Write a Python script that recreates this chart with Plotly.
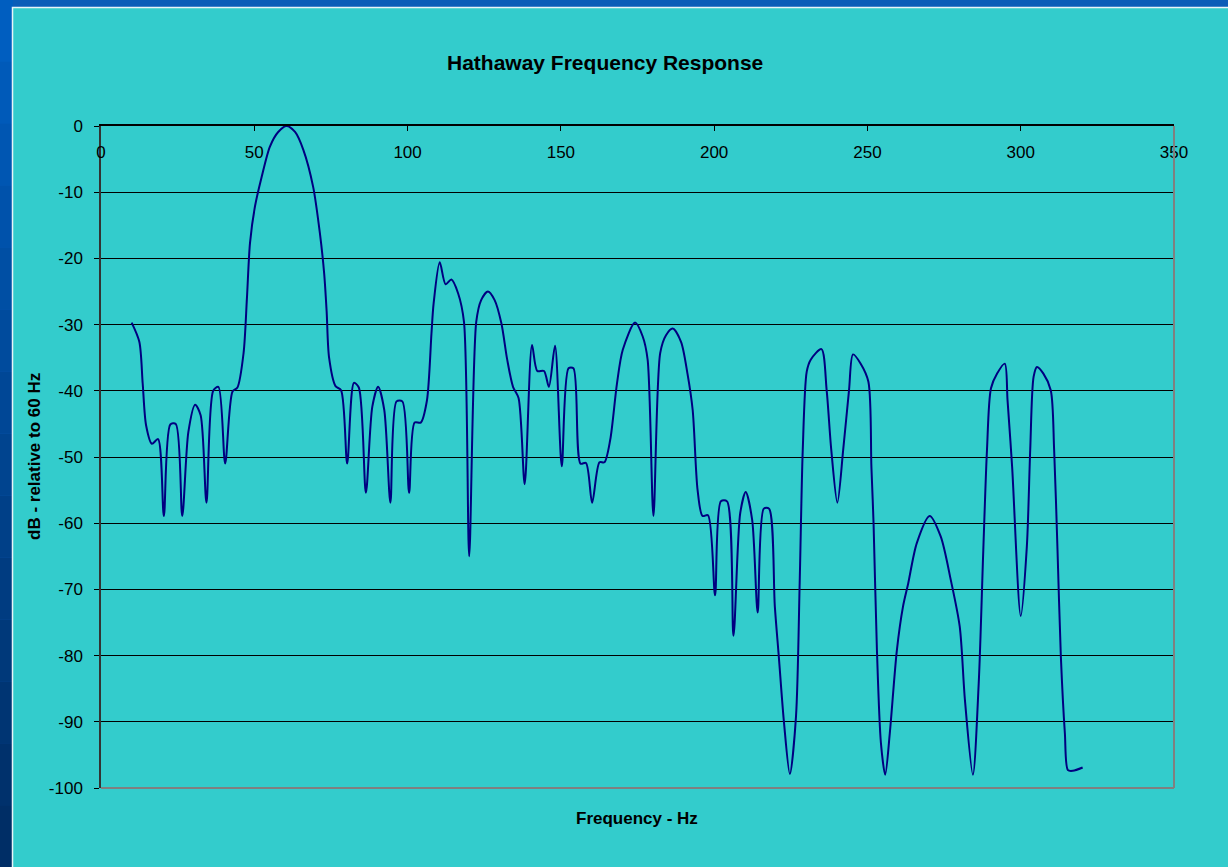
import plotly.graph_objects as go

W, H = 1228, 867
L, R, T, B = 101, 54, 126, 79

# Frequency (Hz) and response (dB relative to 60 Hz)
freq = [
    10, 12.5, 13.6, 14.7, 16.6, 18.6, 20.5, 22.6, 24.4, 26.5,
    28.5, 30.7, 32.5, 34.4, 36.6, 38.3, 40.5, 42.9, 44.5, 46.5,
    47.6, 48.6, 50.2, 52.4, 55.1, 57.8, 60.5, 63.3, 66.0, 69.2,
    71.4, 72.8, 73.6, 74.4, 76.5, 78.3, 80.3, 82.5, 84.1, 86.4,
    88.5, 90.4, 92.4, 94.4, 96.4, 98.3, 100.5, 102.3, 104.3, 106.3,
    107.8, 108.5, 110.5, 112.4, 114.3, 116.5, 118.4, 120.1, 122.4, 124.0,
    126.2, 128.4, 130.6, 132.5, 134.4, 136.2, 138.2, 140.6, 142.3, 144.5,
    146.1, 148.1, 150.3, 152.5, 154.1, 156.4, 158.2, 160.2, 162.6, 164.2,
    166.1, 168.3, 170.2, 174.2, 176.7, 178.3, 180.2, 182.4, 184.3, 186.5,
    189.2, 191.3, 193.0, 194.6, 196.2, 198.0, 200.3, 202.2, 204.2, 206.3,
    208.5, 210.3, 212.4, 214.2, 216.2, 217.9, 219.8, 221.1, 222.8, 224.7,
    226.7, 227.9, 228.9, 230.2, 231.5, 235.0, 236.7, 238.2, 240.2, 242.1,
    244.0, 245.3, 247.8, 250.3, 251.3, 252.0, 253.1, 254.4, 255.8, 257.3,
    259.6, 261.6, 263.3, 266.1, 270.3, 273.9, 277.2, 280.1, 281.8, 284.4,
    286.3, 287.8, 289.0, 290.3, 292.3, 294.8, 295.7, 297.2, 300.0, 302.0,
    303.1, 304.2, 305.3, 307.4, 309.8, 310.9, 312.0, 313.1, 314.4, 315.4,
    317.0, 320.2,
]
db = [
    -29.7, -32.6, -38.9, -45.2, -48.0, -47.3, -58.9, -45.1, -45.0, -58.9,
    -46.2, -42.1, -43.7, -56.9, -40.0, -39.4, -51.0, -40.1, -39.5, -34.3,
    -26.0, -17.7, -12.2, -7.7, -3.1, -0.9, 0.0, -0.9, -3.6, -9.2,
    -16.2, -22.3, -28.0, -35.0, -39.3, -39.9, -51.0, -38.8, -39.5, -55.4,
    -42.4, -39.4, -42.9, -56.9, -41.6, -41.6, -55.4, -44.8, -44.8, -41.5,
    -31.3, -26.8, -20.6, -23.9, -23.2, -25.3, -29.6, -65.0, -29.6, -26.3,
    -25.0, -26.3, -29.8, -35.3, -39.4, -41.1, -54.1, -33.1, -37.0, -37.0,
    -39.4, -33.2, -51.4, -36.6, -36.6, -51.0, -50.9, -56.9, -50.8, -50.8,
    -47.4, -38.9, -33.8, -29.7, -31.8, -35.3, -58.9, -34.3, -31.6, -30.6,
    -32.6, -37.4, -42.9, -55.0, -58.9, -58.8, -70.9, -56.7, -56.7, -77.0,
    -58.5, -55.3, -59.5, -73.5, -57.8, -57.8, -72.6, -80.2, -90.2, -97.9,
    -89.2, -69.0, -49.0, -37.1, -35.3, -33.7, -39.9, -48.9, -56.9, -48.9,
    -39.9, -34.5, -35.9, -38.6, -51.5, -60.0, -79.2, -93.2, -98.0, -91.7,
    -79.2, -72.6, -69.1, -63.0, -58.9, -62.0, -68.6, -75.6, -86.7, -98.0,
    -84.2, -64.0, -48.9, -39.6, -37.4, -35.9, -41.4, -51.5, -74.0, -63.5,
    -48.9, -37.9, -36.4, -37.4, -39.9, -48.9, -64.0, -80.2, -91.7, -97.3,
    -97.4, -96.9,
]

x_ticks = [0, 50, 100, 150, 200, 250, 300, 350]
y_ticks = [0, -10, -20, -30, -40, -50, -60, -70, -80, -90, -100]
x_labels = [str(v) for v in x_ticks]
y_labels = [str(v) for v in y_ticks]   # plain hyphen minus, like Excel

TEAL = "#33CCCC"
FONT = "Liberation Sans, Arial, sans-serif"


# paper coords in plotly are relative to the plot area, so convert from pixels
def px(x):
    return (x - L) / (W - L - R)


def py(y):
    return (H - B - y) / (H - T - B)


fig = go.Figure()

fig.add_trace(go.Scatter(
    x=freq,
    y=db,
    mode="lines",
    line=dict(color="#000080", width=2, shape="spline", smoothing=0.8),
    showlegend=False,
    hoverinfo="x+y",
))

# slide background: blue strip on the left, darker towards the bottom
shapes = []
bands = 14
for i in range(bands):
    t = i / (bands - 1)
    g = int(0x5E + (0x2E - 0x5E) * t)
    b = int(0xC0 + (0x66 - 0xC0) * t)
    shapes.append(dict(
        type="rect", xref="paper", yref="paper",
        x0=px(0), x1=px(13), y0=py(H * (i + 1) / bands), y1=py(H * i / bands),
        fillcolor=f"rgb(0,{g},{b})", line=dict(width=0), layer="below",
    ))
# chart area with thin white edge
shapes.append(dict(
    type="rect", xref="paper", yref="paper",
    x0=px(12.5), x1=px(W + 5), y0=py(H + 5), y1=py(7.5),
    fillcolor=TEAL, line=dict(color="#E8F4F8", width=1.5), layer="below",
))
# grey plot border (right and bottom)
shapes.append(dict(type="line", xref="x domain", yref="y domain",
                   x0=1, x1=1, y0=0, y1=1, line=dict(color="#808080", width=2)))
shapes.append(dict(type="line", xref="x domain", yref="y domain",
                   x0=0, x1=1, y0=0, y1=0, line=dict(color="#808080", width=2)))

fig.update_layout(
    width=W,
    height=H,
    margin=dict(l=L, r=R, t=T, b=B),
    paper_bgcolor="#0A5CB8",
    plot_bgcolor=TEAL,
    font=dict(family=FONT, size=17, color="#000000"),
    shapes=shapes,
    annotations=[
        dict(text="<b>Hathaway Frequency Response</b>", x=px(604.5), y=py(63),
             xref="paper", yref="paper", showarrow=False,
             font=dict(size=21, family=FONT, color="#000000"),
             xanchor="center", yanchor="middle"),
        dict(text="<b>Frequency - Hz</b>", x=px(637), y=py(818),
             xref="paper", yref="paper", showarrow=False,
             font=dict(size=17, family=FONT, color="#000000"),
             xanchor="center", yanchor="middle"),
        dict(text="<b>dB - relative to 60 Hz</b>", x=px(34), y=py(457),
             xref="paper", yref="paper", showarrow=False, textangle=-90,
             font=dict(size=17, family=FONT, color="#000000"),
             xanchor="center", yanchor="middle"),
    ],
)

fig.update_xaxes(
    range=[0, 350],
    tickvals=x_ticks,
    ticktext=x_labels,
    side="top",
    ticks="inside",
    ticklen=5,
    tickcolor="#000000",
    tickfont=dict(color="#000000", size=17, family=FONT),
    ticklabelposition="inside",
    ticklabelstandoff=16,
    ticklabeloverflow="allow",
    showline=True,
    linecolor="#000000",
    linewidth=1.5,
    showgrid=False,
    zeroline=False,
)

fig.update_yaxes(
    range=[-100, 0],
    tickvals=y_ticks,
    ticktext=y_labels,
    ticks="outside",
    ticklen=5,
    tickcolor="#000000",
    tickfont=dict(color="#000000", size=17, family=FONT),
    ticklabelstandoff=8,
    ticklabeloverflow="allow",
    showline=True,
    linecolor="#333333",
    linewidth=1.5,
    showgrid=True,
    gridcolor="#000000",
    gridwidth=1,
    zeroline=False,
)

fig.write_html(
    "out.html",
    config={"displayModeBar": False},
    post_script="document.body.style.margin='0';",
)
